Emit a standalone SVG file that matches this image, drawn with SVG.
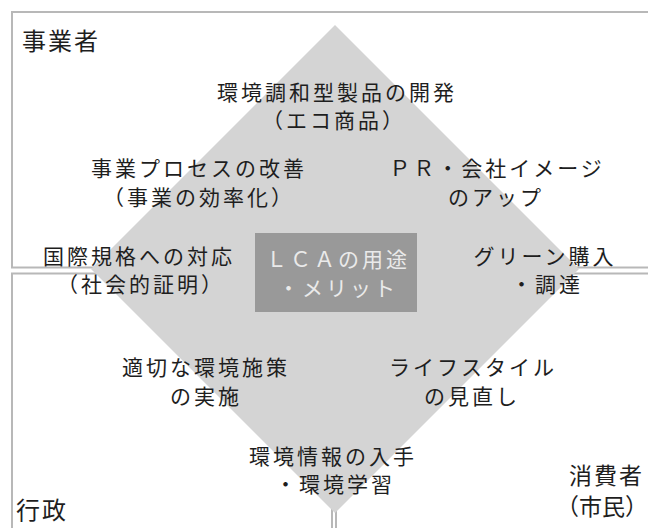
<svg xmlns="http://www.w3.org/2000/svg" width="648" height="528" viewBox="0 0 648 528">
  <style>
    .frame { fill: none; stroke: #b8b8b8; stroke-width: 2; }
    .t { font-family: "Noto Sans CJK JP", "Noto Sans", sans-serif; font-size: 21px; letter-spacing: 3px; fill: #1e1e1e; text-anchor: middle; dominant-baseline: central; }
    .actor { font-family: "Noto Sans CJK JP", "Noto Sans", sans-serif; font-size: 24px; letter-spacing: 2px; fill: #1e1e1e; dominant-baseline: central; }
    .cons { font-size: 23px; }
    .end { text-anchor: end; letter-spacing: 0; }
    .center { fill: #eaeaea; }
  </style>
  <rect width="648" height="528" fill="#ffffff"/>
  <g id="frames">
    <rect class="frame" x="12" y="12" width="660" height="255.5"/>
    <rect class="frame" x="12" y="273.5" width="320" height="280"/>
    <rect class="frame" x="336" y="273.5" width="340" height="280"/>
  </g>
  <g id="diamond">
    <polygon points="335,25 579,269 335,513 91,269" fill="#d4d4d4"/>
  </g>
  <g id="actor-business">
    <text class="actor" x="22" y="39">事業者</text>
  </g>
  <g id="actor-government">
    <text class="actor" x="16" y="508">行政</text>
  </g>
  <g id="actor-consumer">
    <text class="actor cons" x="569" y="474" letter-spacing="2">消費者</text>
    <text class="actor cons end" x="648" y="505">（市民）</text>
  </g>
  <g id="center-node">
    <rect x="255" y="233" width="162" height="79" fill="#999999"/>
    <text class="t center" x="338" y="258">ＬＣＡの用途</text>
    <text class="t center" x="338" y="287">・メリット</text>
  </g>
  <g id="node-eco-product">
    <text class="t" x="337" y="91">環境調和型製品の開発</text>
    <text class="t" x="334" y="119">（エコ商品）</text>
  </g>
  <g id="node-process">
    <text class="t" x="199" y="167">事業プロセスの改善</text>
    <text class="t" x="199" y="196">（事業の効率化）</text>
  </g>
  <g id="node-pr">
    <text class="t" x="497" y="167">ＰＲ・会社イメージ</text>
    <text class="t" x="496" y="196">のアップ</text>
  </g>
  <g id="node-iso">
    <text class="t" x="139" y="255">国際規格への対応</text>
    <text class="t" x="141" y="283">（社会的証明）</text>
  </g>
  <g id="node-green">
    <text class="t" x="545" y="255">グリーン購入</text>
    <text class="t" x="547" y="283">・調達</text>
  </g>
  <g id="node-policy">
    <text class="t" x="206" y="366">適切な環境施策</text>
    <text class="t" x="206" y="395">の実施</text>
  </g>
  <g id="node-lifestyle">
    <text class="t" x="473" y="366">ライフスタイル</text>
    <text class="t" x="472" y="395">の見直し</text>
  </g>
  <g id="node-info">
    <text class="t" x="333" y="455">環境情報の入手</text>
    <text class="t" x="335" y="483">・環境学習</text>
  </g>
</svg>
